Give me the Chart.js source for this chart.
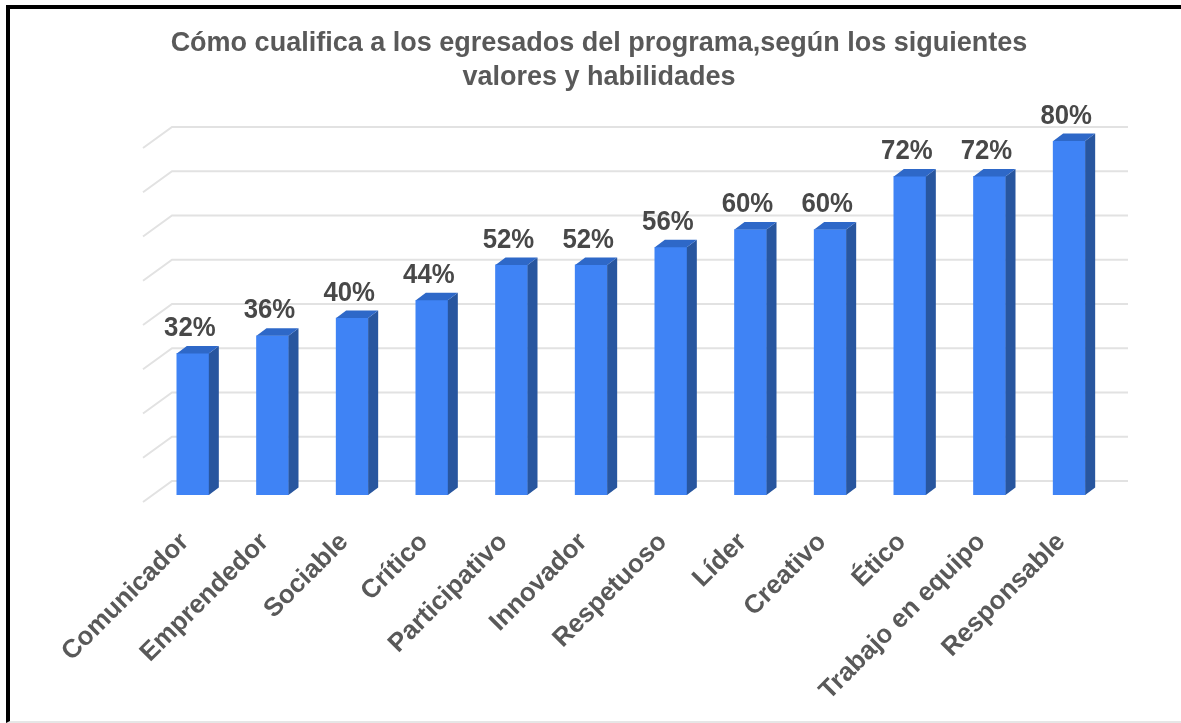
<!DOCTYPE html>
<html lang="es">
<head>
<meta charset="utf-8">
<title>Cómo cualifica a los egresados</title>
<script src="https://cdn.jsdelivr.net/npm/chart.js@4/dist/chart.umd.min.js"></script>
<style>
  html, body { margin: 0; background: #fff; overflow: hidden; }
  #frame { position: absolute; left: 6px; top: 5px; right: 0; bottom: 0; box-sizing: border-box;
           border-top: 4px solid #000; border-left: 4px solid #000; border-bottom: 2px solid #e6e6e6; pointer-events: none; }
  /* the reference is a slightly soft, upscaled image */
  canvas { position: absolute; left: 0; top: 0; display: block; filter: blur(0.5px); }
</style>
</head>
<body>
<canvas id="chart" width="1181" height="723"></canvas>
<div id="frame"></div>
<script>
const titleLines = ['Cómo cualifica a los egresados del programa,según los siguientes', 'valores y habilidades'];
const categories = ['Comunicador', 'Emprendedor', 'Sociable', 'Crítico', 'Participativo', 'Innovador',
    'Respetuoso', 'Líder', 'Creativo', 'Ético', 'Trabajo en equipo', 'Responsable'];
const values = [32, 36, 40, 44, 52, 52, 56, 60, 60, 72, 72, 80];
const gridValues = [0, 10, 20, 30, 40, 50, 60, 70, 80];

const FRONT = '#3f83f5';
const SIDE = '#28569f';
const TOP = '#2e68c8';
const GRID = '#e2e2e2';
const TEXT = '#595959';
const DEPTH_X = 10;
const DEPTH_Y = 7.5;

function poly(ctx, pts, fill) {
    ctx.beginPath();
    pts.forEach((p, i) => i ? ctx.lineTo(p[0], p[1]) : ctx.moveTo(p[0], p[1]));
    ctx.closePath();
    ctx.fillStyle = fill;
    ctx.fill();
}

// title is centred on the page, not on the plot
const titlePlugin = {
    id: 'titleCentre',
    afterLayout(chart) {
        chart.titleBlock.left = 17;
        chart.titleBlock.right = 1181;
    }
};

// wall + floor style grid, the chart is a fake 3D column chart
const gridPlugin = {
    id: 'grid3d',
    beforeDatasetsDraw(chart) {
        const { ctx, chartArea, scales } = chart;
        ctx.save();
        ctx.strokeStyle = GRID;
        ctx.lineWidth = 2;
        gridValues.forEach(v => {
            const y = scales.y.getPixelForValue(v);
            ctx.beginPath();
            ctx.moveTo(chartArea.left - 10, y + 7);
            ctx.lineTo(chartArea.left + 19, y - 14);
            ctx.lineTo(chartArea.right + 19, y - 14);
            ctx.stroke();
        });
        ctx.restore();
    }
};

const barFacesPlugin = {
    id: 'barFaces',
    afterDatasetsDraw(chart) {
        const { ctx } = chart;
        const meta = chart.getDatasetMeta(0);
        ctx.save();
        meta.data.forEach((bar, i) => {
            const half = bar.width / 2;
            const l = bar.x - half, r = bar.x + half;
            poly(ctx, [[r, bar.y], [r + DEPTH_X, bar.y - DEPTH_Y], [r + DEPTH_X, bar.base - DEPTH_Y], [r, bar.base]], SIDE);
            poly(ctx, [[l, bar.y], [l + DEPTH_X, bar.y - DEPTH_Y], [r + DEPTH_X, bar.y - DEPTH_Y], [r, bar.y]], TOP);
            // value label, squeezed a bit because the original is narrow and tall
            ctx.save();
            ctx.translate(bar.x - 3, bar.y - 25);
            ctx.scale(0.92, 1);
            ctx.font = 'bold 28px "Liberation Sans"';
            ctx.fillStyle = '#484848';
            ctx.textAlign = 'center';
            ctx.textBaseline = 'middle';
            ctx.fillText(values[i] + '%', 0, 0);
            ctx.restore();
        });
        ctx.restore();
    }
};

new Chart(document.getElementById('chart'), {
    type: 'bar',
    data: {
        labels: categories,
        datasets: [{
            data: values,
            backgroundColor: FRONT,
            barThickness: 32
        }]
    },
    options: {
        responsive: false,
        animation: false,
        layout: { padding: { left: 153, right: 72, top: 0, bottom: 0 } },
        plugins: {
            legend: { display: false },
            tooltip: { enabled: false },
            title: {
                display: true,
                text: titleLines,
                color: TEXT,
                font: { family: '"Liberation Sans"', size: 27, weight: 'bold', lineHeight: 1.26 },
                padding: { top: 27, bottom: 46 }
            }
        },
        scales: {
            x: {
                grid: { display: false },
                border: { display: false },
                afterFit(scale) {
                    scale.height = 723 - 495;
                    scale.paddingLeft = 0;
                    scale.paddingRight = 0;
                },
                ticks: {
                    autoSkip: false,
                    minRotation: 45,
                    maxRotation: 45,
                    padding: 24,
                    labelOffset: -8,
                    color: TEXT,
                    font: { family: '"Liberation Sans"', size: 26, weight: 'bold' }
                }
            },
            y: {
                display: false,
                min: 0,
                max: 80
            }
        }
    },
    plugins: [titlePlugin, gridPlugin, barFacesPlugin]
});
</script>
</body>
</html>
